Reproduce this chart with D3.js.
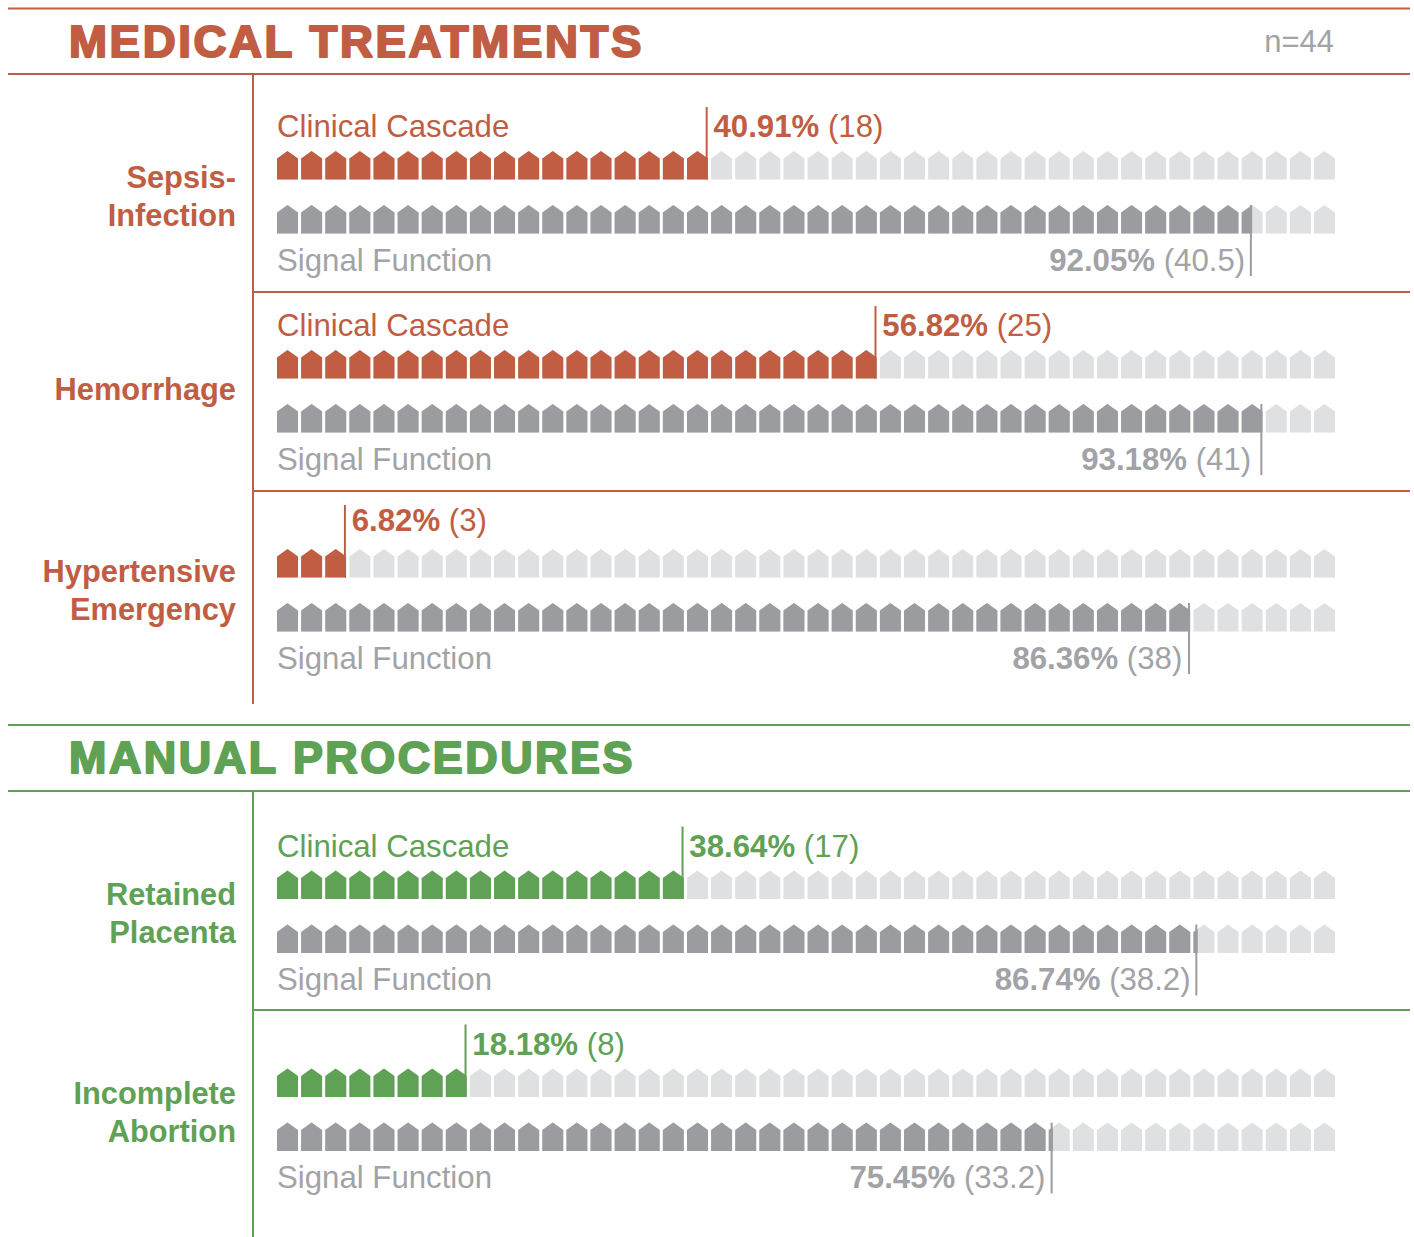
<!DOCTYPE html>
<html lang="en">
<head>
<meta charset="UTF-8">
<title>Clinical Cascade vs Signal Function</title>
<script src="https://d3js.org/d3.v7.min.js"></script>
<style>
  html, body { margin: 0; padding: 0; background: #fff; }
  svg { display: block; }
  text { font-family: "Liberation Sans", Arial, sans-serif; }
  .title { font-weight: 700; font-size: 44px; letter-spacing: 2.5px; }
  .rowlabel { font-size: 30.8px; font-weight: 700; text-anchor: end; }
  .name { font-size: 31.2px; }
  .val { font-size: 31.2px; }
  .val .pct { font-weight: 700; }
</style>
</head>
<body>
<svg id="chart" width="1414" height="1237"></svg>
<script>
const total = 44;
const groupTitles = ["MEDICAL TREATMENTS", "MANUAL PROCEDURES"];
const groupColors = ["#c05d42", "#5fa155"];

const rowLabels = [["Sepsis-", "Infection"], ["Hemorrhage"], ["Hypertensive", "Emergency"], ["Retained", "Placenta"], ["Incomplete", "Abortion"]];
const rowGroup = [0, 0, 0, 1, 1];
const cascadeCount = [18, 25, 3, 17, 8];
const cascadePct = ["40.91%", "56.82%", "6.82%", "38.64%", "18.18%"];
const signalCount = [40.5, 41, 38, 38.2, 33.2];
const signalPct = ["92.05%", "93.18%", "86.36%", "86.74%", "75.45%"];
// last row: the reference draws 32.2 houses filled although its label says 33.2
const signalDrawn = [40.5, 41, 38, 38.2, 32.2];
const cascadeNamed = [true, true, false, true, false];

const grey = "#9b9c9f", light = "#dfe0e2", greyText = "#a2a3a6";
const svg = d3.select("#chart");

const iconW = 21;
const x = d3.scaleLinear().domain([0, total - 1]).range([277, 1335 - iconW]);
// layout per row
const rowY = [151, 350, 549, 870.5, 1068.5];
const labelY = [188, 400, 582, 905, 1104];
const dividerY = [292, 491, null, 1010, null];
const cascadeTextY = [137, 336, 531, 857, 1055];
const signalTextY = [271, 470, 669, 990, 1188];
const signalGap = [7, 11.5, 8, 7, 7.5];

function house(px, top) {
  const h = 28.5, s = 7.5;
  return `M${px},${top + h}V${top + s}L${px + iconW / 2},${top}L${px + iconW},${top + s}V${top + h}Z`;
}

// whole houses stop at the end of the last icon, a part stops inside the next icon
function edge(v) {
  const whole = Math.floor(v);
  if (v === whole) return x(whole - 1) + iconW;
  return x(whole) + (v - whole) * iconW;
}

function drawBar(g, top, value, color, clipId) {
  const idx = d3.range(total);
  g.selectAll(null).data(idx).enter().append("path")
    .attr("d", d => house(x(d), top)).attr("fill", light);
  g.append("clipPath").attr("id", clipId).append("rect")
    .attr("x", x(0)).attr("y", top - 1).attr("height", 31).attr("width", edge(value) - x(0));
  g.append("g").attr("clip-path", `url(#${clipId})`)
    .selectAll(null).data(idx).enter().append("path")
    .attr("d", d => house(x(d), top)).attr("fill", color);
}

// group headers
const headY = [[8.5, 74], [725, 791]];
const titleY = [57, 773];
const titleW = [575, 566];
groupTitles.forEach((t, i) => {
  const c = groupColors[i];
  headY[i].forEach(y => svg.append("line").attr("x1", 8).attr("x2", 1410).attr("y1", y).attr("y2", y)
    .attr("stroke", c).attr("stroke-width", 2));
  svg.append("text").attr("class", "title").attr("x", 69).attr("y", titleY[i]).attr("fill", c)
    .attr("stroke", c).attr("stroke-width", 2).attr("stroke-linejoin", "round")
    .attr("textLength", titleW[i]).attr("lengthAdjust", "spacingAndGlyphs").text(t);
});
svg.append("text").attr("x", 1334).attr("y", 52).attr("text-anchor", "end").attr("font-size", 31)
  .attr("fill", greyText).text("n=44");

// vertical spines
[[74, 704], [791, 1237]].forEach((s, i) => {
  svg.append("line").attr("x1", 253).attr("x2", 253).attr("y1", s[0]).attr("y2", s[1])
    .attr("stroke", groupColors[i]).attr("stroke-width", 2);
});

rowLabels.forEach((lines, i) => {
  const c = groupColors[rowGroup[i]];
  const top = rowY[i];
  const g = svg.append("g");

  if (dividerY[i]) g.append("line").attr("x1", 253).attr("x2", 1410)
    .attr("y1", dividerY[i]).attr("y2", dividerY[i]).attr("stroke", c).attr("stroke-width", 2);

  lines.forEach((l, k) => {
    g.append("text").attr("class", "rowlabel").attr("x", 236)
      .attr("y", labelY[i] + k * 37.5).attr("fill", c).text(l);
  });

  // cascade bar
  drawBar(g, top, cascadeCount[i], c, `c${i}`);
  const cx = edge(cascadeCount[i]);
  g.append("line").attr("x1", cx - 1.3).attr("x2", cx - 1.3).attr("y1", top - 44).attr("y2", top + 28.5)
    .attr("stroke", c).attr("stroke-width", 2);
  if (cascadeNamed[i]) g.append("text").attr("class", "name").attr("x", 277).attr("y", cascadeTextY[i]).attr("fill", c).text("Clinical Cascade");
  const tv = g.append("text").attr("class", "val").attr("x", cx + 5.5).attr("y", cascadeTextY[i]).attr("fill", c);
  tv.append("tspan").attr("class", "pct").text(cascadePct[i]);
  tv.append("tspan").text(` (${cascadeCount[i]})`);

  // signal function bar
  const st = top + 54;
  drawBar(g, st, signalDrawn[i], grey, `s${i}`);
  const sx = edge(signalDrawn[i]);
  g.append("line").attr("x1", sx - 1.3).attr("x2", sx - 1.3).attr("y1", st).attr("y2", st + 71)
    .attr("stroke", grey).attr("stroke-width", 2);
  g.append("text").attr("class", "name").attr("x", 277).attr("y", signalTextY[i]).attr("fill", greyText).text("Signal Function");
  const sv = g.append("text").attr("class", "val").attr("x", sx - signalGap[i]).attr("y", signalTextY[i])
    .attr("text-anchor", "end").attr("fill", greyText);
  sv.append("tspan").attr("class", "pct").text(signalPct[i]);
  sv.append("tspan").text(` (${signalCount[i]})`);
});
</script>
</body>
</html>
